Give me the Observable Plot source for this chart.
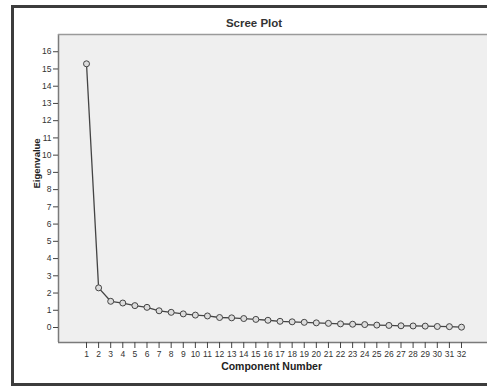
<!DOCTYPE html>
<html>
<head>
<meta charset="utf-8">
<script src="https://cdn.jsdelivr.net/npm/d3@7"></script>
<script src="https://cdn.jsdelivr.net/npm/@observablehq/plot@0.6"></script>
<style>
  html, body { margin: 0; padding: 0; background: #fff; overflow: hidden; width: 487px; height: 387px; }
  #wrap { position: relative; width: 487px; height: 387px; overflow: hidden; font-family: "Liberation Sans", Arial, sans-serif; }
  #box { position: absolute; left: 11px; top: 5px; width: 473px; height: 375px; border: 3px solid #3c3c3c; border-right: none; }
  #title { position: absolute; left: 254px; top: 17px; transform: translateX(-50%); white-space: nowrap; font-weight: bold; font-size: 11.5px; color: #333; }
  #chart { position: absolute; left: 0; top: 0; width: 487px; height: 387px; }
  #chart svg { display: block; }
</style>
</head>
<body>
<div id="wrap">
  <div id="box"></div>
  <div id="chart"></div>
  <div id="title">Scree Plot</div>
</div>
<script>
const components = [1,2,3,4,5,6,7,8,9,10,11,12,13,14,15,16,17,18,19,20,21,22,23,24,25,26,27,28,29,30,31,32];
const eigenvalues = [15.3,2.3,1.52,1.42,1.27,1.17,0.97,0.88,0.79,0.72,0.67,0.58,0.56,0.52,0.47,0.42,0.36,0.33,0.30,0.27,0.24,0.21,0.19,0.17,0.14,0.12,0.10,0.09,0.08,0.06,0.05,0.02];
const xTicks = components;
const yTicks = [0,1,2,3,4,5,6,7,8,9,10,11,12,13,14,15,16];

const data = components.map((c, i) => ({component: c, eigenvalue: eigenvalues[i]}));

const chart = Plot.plot({
  width: 487,
  height: 387,
  marginLeft: 58,
  marginTop: 34,
  marginBottom: 45,
  marginRight: 0,
  style: {fontFamily: "Liberation Sans, Arial, sans-serif", fontSize: "8px", color: "#333", background: "transparent"},
  x: {domain: [-1.315, 34.15], label: null},
  y: {domain: [-0.87, 17.0], label: null},
  marks: [
    Plot.frame({fill: "#efefef", stroke: "none"}),
    Plot.ruleX([-1.315], {stroke: "#7a7a7a", strokeWidth: 1.5}),
    Plot.ruleY([-0.87], {stroke: "#7a7a7a", strokeWidth: 1.5}),
    Plot.ruleY([17.0], {stroke: "#9a9a9a", strokeWidth: 1.5}),
    Plot.axisY({ticks: yTicks, tickSize: 5, tickPadding: 2, fontSize: 8.5, stroke: "#444", label: null}),
    Plot.axisX({ticks: xTicks, tickSize: 6, tickPadding: 2, fontSize: 8.5, stroke: "#444", label: null}),
    Plot.line(data, {x: "component", y: "eigenvalue", stroke: "#444", strokeWidth: 1.3}),
    Plot.dot(data, {x: "component", y: "eigenvalue", r: 3, fill: "#dcdcdc", stroke: "#444", strokeWidth: 1}),
    Plot.text(["Eigenvalue"], {frameAnchor: "left", dx: -22, rotate: -90, text: d => d, fontWeight: "bold", fontSize: 9.5, fill: "#222"}),
    Plot.text(["Component Number"], {x: 16.3, frameAnchor: "bottom", dy: 27, text: d => d, fontWeight: "bold", fontSize: 10.5, fill: "#222"})
  ]
});
document.getElementById("chart").appendChild(chart);
</script>
</body>
</html>
